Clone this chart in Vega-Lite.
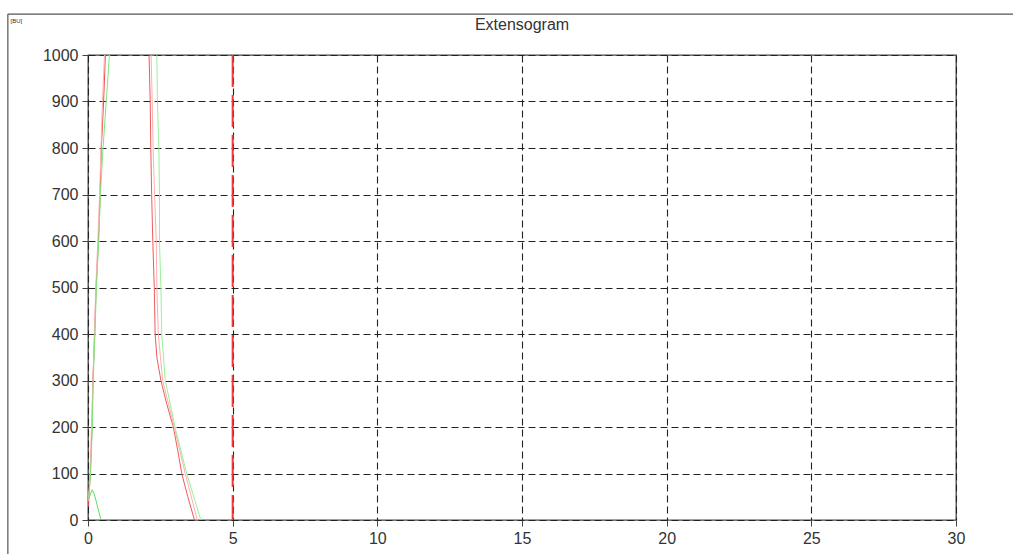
{
  "$schema": "https://vega.github.io/schema/vega-lite/v6.json",
  "autosize": "none",
  "width": 868,
  "height": 465,
  "padding": {"left": 88, "top": 55, "right": 57, "bottom": 34},
  "background": "white",
  "title": {"text": "Extensogram", "fontSize": 16, "font": "Liberation Sans", "fontWeight": "normal", "color": "#333", "offset": -20, "anchor": "middle"},
  "config": {
    "font": "Liberation Sans",
    "view": {"stroke": "#444", "strokeWidth": 1.3}
  },
  "datasets": {
    "curves": [
      {"s": "Lr", "i": 1, "x": 0.02, "y": 30}, {"s": "Lr", "i": 2, "x": 0.03, "y": 50}, {"s": "Lr", "i": 3, "x": 0.08, "y": 100}, {"s": "Lr", "i": 4, "x": 0.14, "y": 200}, {"s": "Lr", "i": 5, "x": 0.17, "y": 300}, {"s": "Lr", "i": 6, "x": 0.23, "y": 400}, {"s": "Lr", "i": 7, "x": 0.28, "y": 500}, {"s": "Lr", "i": 8, "x": 0.36, "y": 600}, {"s": "Lr", "i": 9, "x": 0.42, "y": 700}, {"s": "Lr", "i": 10, "x": 0.46, "y": 800}, {"s": "Lr", "i": 11, "x": 0.54, "y": 900}, {"s": "Lr", "i": 12, "x": 0.6, "y": 1000},
      {"s": "Lp", "i": 1, "x": 0.01, "y": 40}, {"s": "Lp", "i": 2, "x": 0.07, "y": 100}, {"s": "Lp", "i": 3, "x": 0.12, "y": 200}, {"s": "Lp", "i": 4, "x": 0.17, "y": 300}, {"s": "Lp", "i": 5, "x": 0.22, "y": 400}, {"s": "Lp", "i": 6, "x": 0.27, "y": 500}, {"s": "Lp", "i": 7, "x": 0.34, "y": 600}, {"s": "Lp", "i": 8, "x": 0.4, "y": 700}, {"s": "Lp", "i": 9, "x": 0.45, "y": 800}, {"s": "Lp", "i": 10, "x": 0.5, "y": 900}, {"s": "Lp", "i": 11, "x": 0.57, "y": 1000},
      {"s": "Lg", "i": 1, "x": 0.03, "y": 50}, {"s": "Lg", "i": 2, "x": 0.09, "y": 100}, {"s": "Lg", "i": 3, "x": 0.15, "y": 200}, {"s": "Lg", "i": 4, "x": 0.18, "y": 300}, {"s": "Lg", "i": 5, "x": 0.24, "y": 400}, {"s": "Lg", "i": 6, "x": 0.29, "y": 500}, {"s": "Lg", "i": 7, "x": 0.37, "y": 600}, {"s": "Lg", "i": 8, "x": 0.43, "y": 700}, {"s": "Lg", "i": 9, "x": 0.52, "y": 800}, {"s": "Lg", "i": 10, "x": 0.63, "y": 900}, {"s": "Lg", "i": 11, "x": 0.74, "y": 1000},
      {"s": "Gs", "i": 1, "x": 0.02, "y": 45}, {"s": "Gs", "i": 2, "x": 0.14, "y": 65}, {"s": "Gs", "i": 3, "x": 0.22, "y": 55}, {"s": "Gs", "i": 4, "x": 0.45, "y": 0},
      {"s": "Rr", "i": 1, "x": 2.11, "y": 1000}, {"s": "Rr", "i": 2, "x": 2.15, "y": 900}, {"s": "Rr", "i": 3, "x": 2.17, "y": 800}, {"s": "Rr", "i": 4, "x": 2.2, "y": 700}, {"s": "Rr", "i": 5, "x": 2.24, "y": 600}, {"s": "Rr", "i": 6, "x": 2.29, "y": 500}, {"s": "Rr", "i": 7, "x": 2.32, "y": 400}, {"s": "Rr", "i": 8, "x": 2.38, "y": 350}, {"s": "Rr", "i": 9, "x": 2.52, "y": 300}, {"s": "Rr", "i": 10, "x": 2.72, "y": 250}, {"s": "Rr", "i": 11, "x": 2.95, "y": 200}, {"s": "Rr", "i": 12, "x": 3.1, "y": 150}, {"s": "Rr", "i": 13, "x": 3.24, "y": 100}, {"s": "Rr", "i": 14, "x": 3.45, "y": 50}, {"s": "Rr", "i": 15, "x": 3.68, "y": 0},
      {"s": "Rp", "i": 1, "x": 2.18, "y": 1000}, {"s": "Rp", "i": 2, "x": 2.22, "y": 900}, {"s": "Rp", "i": 3, "x": 2.25, "y": 800}, {"s": "Rp", "i": 4, "x": 2.3, "y": 700}, {"s": "Rp", "i": 5, "x": 2.36, "y": 600}, {"s": "Rp", "i": 6, "x": 2.38, "y": 500}, {"s": "Rp", "i": 7, "x": 2.43, "y": 400}, {"s": "Rp", "i": 8, "x": 2.58, "y": 300}, {"s": "Rp", "i": 9, "x": 2.98, "y": 200}, {"s": "Rp", "i": 10, "x": 3.36, "y": 100}, {"s": "Rp", "i": 11, "x": 3.78, "y": 0},
      {"s": "Rg", "i": 1, "x": 2.38, "y": 1000}, {"s": "Rg", "i": 2, "x": 2.4, "y": 900}, {"s": "Rg", "i": 3, "x": 2.45, "y": 800}, {"s": "Rg", "i": 4, "x": 2.47, "y": 700}, {"s": "Rg", "i": 5, "x": 2.47, "y": 600}, {"s": "Rg", "i": 6, "x": 2.52, "y": 500}, {"s": "Rg", "i": 7, "x": 2.55, "y": 400}, {"s": "Rg", "i": 8, "x": 2.67, "y": 300}, {"s": "Rg", "i": 9, "x": 3.01, "y": 200}, {"s": "Rg", "i": 10, "x": 3.41, "y": 100}, {"s": "Rg", "i": 11, "x": 3.9, "y": 0}
    ],
    "limit": [{"x": 5}],
    "frame": [
      {"x": -2.77, "y": 1088, "x2": 32.5, "y2": 1088},
      {"x": -2.77, "y": 1088, "x2": -2.77, "y2": -80}
    ]
  },
  "layer": [
    {
      "data": {"name": "curves"},
      "mark": {"type": "line", "strokeWidth": 1, "clip": true},
      "encoding": {
        "x": {"field": "x", "type": "quantitative", "scale": {"domain": [0, 30], "nice": false, "zero": false},
          "axis": {"zindex": 0, "values": [0, 5, 10, 15, 20, 25, 30], "format": "d", "title": null, "grid": true, "gridColor": "#222", "gridDash": [7, 4], "gridWidth": 1.1, "domain": false, "tickColor": "#444", "tickSize": 6, "labelPadding": 4, "labelFontSize": 16, "labelColor": "#333", "labelFont": "Liberation Sans", "labelFlush": false}},
        "y": {"field": "y", "type": "quantitative", "scale": {"domain": [0, 1000], "nice": false, "zero": false},
          "axis": {"zindex": 0, "values": [0, 100, 200, 300, 400, 500, 600, 700, 800, 900, 1000], "format": "d", "title": "[BU]", "titleAngle": 0, "titleFontSize": 6, "titleFontWeight": "normal", "titleColor": "#333", "titleX": -78, "titleY": -35, "titleAlign": "left", "titleBaseline": "middle", "grid": true, "gridColor": "#222", "gridDash": [7, 4], "gridWidth": 1.1, "domain": false, "tickColor": "#444", "tickSize": 6, "labelPadding": 4, "labelFontSize": 16, "labelColor": "#333", "labelFont": "Liberation Sans", "labelFlush": false}},
        "detail": {"field": "s"},
        "order": {"field": "i"},
        "color": {"field": "s", "type": "nominal", "legend": null,
          "scale": {"domain": ["Lp", "Rp", "Lg", "Rg", "Gs", "Lr", "Rr"], "range": ["#ffb0b0", "#ffb0b0", "#7ee87e", "#9af09a", "#5ee05e", "#f04848", "#f05a5a"]}}
      }
    },
    {
      "data": {"name": "limit"},
      "mark": {"type": "rule", "color": "#f03a3a", "strokeWidth": 2, "strokeDash": [32, 8], "zindex": 2},
      "encoding": {"x": {"field": "x", "type": "quantitative"}}
    },
    {
      "data": {"name": "frame"},
      "mark": {"type": "rule", "color": "#555", "strokeWidth": 1.2, "clip": false},
      "encoding": {
        "x": {"field": "x", "type": "quantitative"},
        "y": {"field": "y", "type": "quantitative"},
        "x2": {"field": "x2"},
        "y2": {"field": "y2"}
      }
    }
  ]
}
